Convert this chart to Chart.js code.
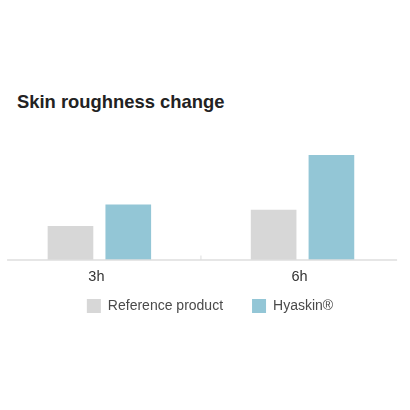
<!DOCTYPE html>
<html>
<head>
<meta charset="utf-8">
<script src="https://cdn.jsdelivr.net/npm/chart.js@4.4.1/dist/chart.umd.min.js"></script>
<style>
  html, body { margin: 0; padding: 0; background: #fff; overflow: hidden; }
  body { width: 410px; height: 410px; position: relative; }
  #title {
    position: absolute; left: 17px; top: 93px; margin: 0;
    font: bold 18.4px "Liberation Sans", Arial, sans-serif; line-height: 1;
    color: #222; white-space: nowrap;
  }
  #wrap { position: absolute; left: -10px; top: 0; width: 440px; height: 410px; }
</style>
</head>
<body>
<div id="title">Skin roughness change</div>
<div id="wrap"><canvas id="roughnessChart"></canvas></div>
<script>
// values (relative units)
const timePoints = ['3h', '6h'];
const referenceValues = [11, 16.3];
const hyaskinValues = [18, 34];
const seriesNames = ['Reference product', 'Hyaskin\u00AE'];

const greyColor = '#d7d7d7';
const blueColor = '#93c6d6';

// baseline with a small divider tick between the two groups
const axisLine = {
    id: 'axisLine',
    afterDatasetsDraw(chart) {
        const ctx = chart.ctx;
        const area = chart.chartArea;
        const x = chart.scales.x;
        const y0 = chart.scales.y.getPixelForValue(0);
        const mid = (x.getPixelForTick(0) + x.getPixelForTick(1)) / 2;
        ctx.save();
        ctx.strokeStyle = '#dedede';
        ctx.lineWidth = 1.6;
        ctx.beginPath();
        ctx.moveTo(area.left + 9.3, y0);
        ctx.lineTo(area.right - 7, y0);
        ctx.stroke();
        ctx.lineWidth = 1;
        ctx.beginPath();
        ctx.moveTo(mid, y0 - 4.5);
        ctx.lineTo(mid, y0);
        ctx.stroke();
        ctx.restore();
    }
};

const context = document.getElementById('roughnessChart');

const data = {
    labels: timePoints,
    datasets: [
        {
            label: seriesNames[0],
            data: referenceValues,
            backgroundColor: greyColor,
            borderWidth: 0
        },
        {
            label: seriesNames[1],
            data: hyaskinValues,
            backgroundColor: blueColor,
            borderWidth: 0
        }
    ]
};

const config = {
    type: 'bar',
    data: data,
    options: {
        responsive: true,
        maintainAspectRatio: false,
        animation: false,
        datasets: {
            bar: { categoryPercentage: 0.569, barPercentage: 0.79 }
        },
        layout: {
            padding: { left: 7.8, right: 7.8, top: 136.5, bottom: 87 }
        },
        scales: {
            x: {
                grid: { display: false },
                border: { display: false },
                ticks: {
                    color: '#333',
                    // mirrored so the labels are not clipped to the short axis box
                    mirror: true,
                    padding: -25.5,
                    labelOffset: -3,
                    font: { family: '"Liberation Sans", Arial, sans-serif', size: 14.5 }
                },
                afterFit(scale) { scale.height = 10; }
            },
            y: {
                position: 'right',
                min: 0,
                max: 40,
                grid: { display: false },
                border: { display: false },
                ticks: { display: false },
                afterFit(scale) { scale.width = 18.1; }
            }
        },
        plugins: {
            title: { display: false },
            tooltip: { enabled: false },
            legend: {
                position: 'bottom',
                labels: {
                    boxWidth: 14,
                    boxHeight: 14,
                    padding: 29,
                    color: '#4a4a4a',
                    font: { family: '"Liberation Sans", Arial, sans-serif', size: 14 }
                }
            }
        }
    },
    plugins: [axisLine]
};

const roughnessChart = new Chart(context, config);
</script>
</body>
</html>
